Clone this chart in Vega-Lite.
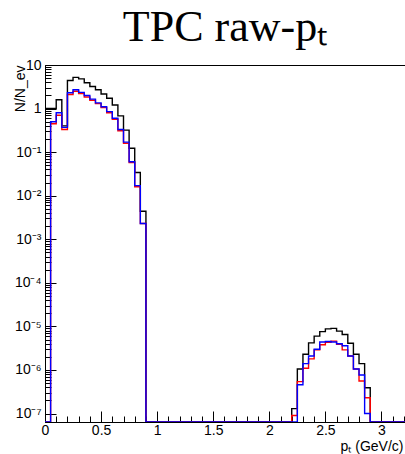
{
  "$schema": "https://vega.github.io/schema/vega-lite/v6.json",
  "width": 360,
  "height": 357,
  "autosize": {"type": "none"},
  "padding": {"left": 45, "top": 65, "right": 0, "bottom": 32},
  "background": "white",
  "title": {
    "text": "TPC raw-pₜ",
    "font": "Liberation Serif",
    "fontSize": 44,
    "fontWeight": "normal",
    "color": "black",
    "anchor": "middle",
    "baseline": "alphabetic",
    "offset": 21,
    "dy": 48
  },
  "datasets": {
    "black": [
      {"pt": 0, "n": 1.0}, {"pt": 0.05, "n": 1.0}, {"pt": 0.1, "n": 1.6}, {"pt": 0.15, "n": 0.4},
      {"pt": 0.2, "n": 4.4}, {"pt": 0.25, "n": 5.2}, {"pt": 0.3, "n": 4.8}, {"pt": 0.35, "n": 3.9},
      {"pt": 0.4, "n": 3.2}, {"pt": 0.45, "n": 2.7}, {"pt": 0.5, "n": 2.16}, {"pt": 0.55, "n": 1.72},
      {"pt": 0.6, "n": 1.21}, {"pt": 0.65, "n": 0.68}, {"pt": 0.7, "n": 0.32}, {"pt": 0.75, "n": 0.123},
      {"pt": 0.8, "n": 0.034}, {"pt": 0.85, "n": 0.0044}, {"pt": 0.9, "n": 1e-9},
      {"pt": 2.2, "n": 1.3e-7}, {"pt": 2.25, "n": 1.05e-6}, {"pt": 2.3, "n": 2.3e-6}, {"pt": 2.35, "n": 4.2e-6},
      {"pt": 2.4, "n": 6.0e-6}, {"pt": 2.45, "n": 7.6e-6}, {"pt": 2.5, "n": 8.8e-6}, {"pt": 2.55, "n": 9.0e-6},
      {"pt": 2.6, "n": 7.8e-6}, {"pt": 2.65, "n": 6.5e-6}, {"pt": 2.7, "n": 4.1e-6}, {"pt": 2.75, "n": 2.3e-6},
      {"pt": 2.8, "n": 1.4e-6}, {"pt": 2.85, "n": 3.9e-7}, {"pt": 2.9, "n": 1e-9}, {"pt": 3.21, "n": 1e-9}
    ],
    "red": [
      {"pt": 0, "n": 1e-9}, {"pt": 0.05, "n": 0.45}, {"pt": 0.1, "n": 0.7}, {"pt": 0.15, "n": 0.33},
      {"pt": 0.2, "n": 2.1}, {"pt": 0.25, "n": 2.5}, {"pt": 0.3, "n": 2.2}, {"pt": 0.35, "n": 1.85},
      {"pt": 0.4, "n": 1.55}, {"pt": 0.45, "n": 1.3}, {"pt": 0.5, "n": 1.05}, {"pt": 0.55, "n": 0.8},
      {"pt": 0.6, "n": 0.57}, {"pt": 0.65, "n": 0.31}, {"pt": 0.7, "n": 0.16}, {"pt": 0.75, "n": 0.058},
      {"pt": 0.8, "n": 0.016}, {"pt": 0.85, "n": 0.0023}, {"pt": 0.9, "n": 1e-9},
      {"pt": 2.2, "n": 9e-8}, {"pt": 2.25, "n": 5.4e-7}, {"pt": 2.3, "n": 1.1e-6}, {"pt": 2.35, "n": 1.8e-6},
      {"pt": 2.4, "n": 2.9e-6}, {"pt": 2.45, "n": 3.8e-6}, {"pt": 2.5, "n": 4.3e-6}, {"pt": 2.55, "n": 4.6e-6},
      {"pt": 2.6, "n": 3.9e-6}, {"pt": 2.65, "n": 2.9e-6}, {"pt": 2.7, "n": 2.1e-6}, {"pt": 2.75, "n": 1.05e-6},
      {"pt": 2.8, "n": 5.6e-7}, {"pt": 2.85, "n": 2.3e-7}, {"pt": 2.9, "n": 1e-9}, {"pt": 3.21, "n": 1e-9}
    ],
    "blue": [
      {"pt": 0, "n": 1e-9}, {"pt": 0.05, "n": 0.5}, {"pt": 0.1, "n": 0.8}, {"pt": 0.15, "n": 0.37},
      {"pt": 0.2, "n": 2.3}, {"pt": 0.25, "n": 2.7}, {"pt": 0.3, "n": 2.35}, {"pt": 0.35, "n": 2.0},
      {"pt": 0.4, "n": 1.65}, {"pt": 0.45, "n": 1.35}, {"pt": 0.5, "n": 1.1}, {"pt": 0.55, "n": 0.85},
      {"pt": 0.6, "n": 0.6}, {"pt": 0.65, "n": 0.33}, {"pt": 0.7, "n": 0.17}, {"pt": 0.75, "n": 0.06},
      {"pt": 0.8, "n": 0.017}, {"pt": 0.85, "n": 0.0023}, {"pt": 0.9, "n": 1e-9},
      {"pt": 2.25, "n": 4.6e-7}, {"pt": 2.3, "n": 1.4e-6}, {"pt": 2.35, "n": 2.1e-6},
      {"pt": 2.4, "n": 3.0e-6}, {"pt": 2.45, "n": 4.4e-6}, {"pt": 2.5, "n": 4.5e-6}, {"pt": 2.55, "n": 4.4e-6},
      {"pt": 2.6, "n": 4.0e-6}, {"pt": 2.65, "n": 3.6e-6}, {"pt": 2.7, "n": 2.1e-6}, {"pt": 2.75, "n": 1.05e-6},
      {"pt": 2.8, "n": 7.7e-7}, {"pt": 2.85, "n": 1.0e-7}, {"pt": 2.9, "n": 1e-9}, {"pt": 3.21, "n": 1e-9}
    ]
  },
  "encoding": {
    "x": {
      "field": "pt",
      "type": "quantitative",
      "scale": {"domain": [0, 3.21], "nice": false, "zero": false},
      "axis": {
        "title": "pₜ (GeV/c)",
        "titleAnchor": "end",
        "titleAlign": "right",
        "titleBaseline": "alphabetic",
        "titleX": 358,
        "titleY": 28,
        "values": [0, 0.1, 0.2, 0.3, 0.4, 0.5, 0.6, 0.7, 0.8, 0.9, 1, 1.1, 1.2, 1.3, 1.4, 1.5, 1.6, 1.7, 1.8, 1.9, 2, 2.1, 2.2, 2.3, 2.4, 2.5, 2.6, 2.7, 2.8, 2.9, 3, 3.1, 3.2],
        "labelExpr": "abs(datum.value*2 - round(datum.value*2)) < 0.001 ? format(datum.value, '~g') : ''",
        "labelOverlap": false,
        "labelFlush": false,
        "tickSize": {"condition": {"test": "abs(datum.value*2 - round(datum.value*2)) < 0.001", "value": -11}, "value": -6},
        "labelPadding": 12
      }
    },
    "y": {
      "field": "n",
      "type": "quantitative",
      "scale": {"type": "log", "domain": [6.4e-8, 10], "clamp": true, "nice": false},
      "axis": {
        "title": "N/N_ev",
        "titleAngle": -90,
        "titleAnchor": "end",
        "titleAlign": "right",
        "titleBaseline": "middle",
        "titleX": -25,
        "titleY": 0,
        "values": [1e-7, 2e-7, 3e-7, 4e-7, 5e-7, 6e-7, 7e-7, 8e-7, 9e-7,
                   1e-6, 2e-6, 3e-6, 4e-6, 5e-6, 6e-6, 7e-6, 8e-6, 9e-6,
                   1e-5, 2e-5, 3e-5, 4e-5, 5e-5, 6e-5, 7e-5, 8e-5, 9e-5,
                   1e-4, 2e-4, 3e-4, 4e-4, 5e-4, 6e-4, 7e-4, 8e-4, 9e-4,
                   0.001, 0.002, 0.003, 0.004, 0.005, 0.006, 0.007, 0.008, 0.009,
                   0.01, 0.02, 0.03, 0.04, 0.05, 0.06, 0.07, 0.08, 0.09,
                   0.1, 0.2, 0.3, 0.4, 0.5, 0.6, 0.7, 0.8, 0.9,
                   1, 2, 3, 4, 5, 6, 7, 8, 9, 10],
        "labelExpr": "abs(log(datum.value)/LN10 - round(log(datum.value)/LN10)) < 0.001 ? (round(log(datum.value)/LN10) == 1 ? '10' : (round(log(datum.value)/LN10) == 0 ? '1' : '10⁻' + substring('⁰¹²³⁴⁵⁶⁷⁸⁹', -round(log(datum.value)/LN10), -round(log(datum.value)/LN10) + 1))) : ''",
        "labelOverlap": false,
        "labelFlush": false,
        "tickSize": {"condition": {"test": "abs(log(datum.value)/LN10 - round(log(datum.value)/LN10)) < 0.001", "value": -11}, "value": -6},
        "labelPadding": 15
      }
    }
  },
  "layer": [
    {"data": {"name": "black"}, "mark": {"type": "line", "interpolate": "step-after", "color": "#000000", "strokeWidth": 1.4, "clip": true}},
    {"data": {"name": "red"}, "mark": {"type": "line", "interpolate": "step-after", "color": "#ff0000", "strokeWidth": 1.4, "clip": true}},
    {"data": {"name": "blue"}, "mark": {"type": "line", "interpolate": "step-after", "color": "#0000ff", "strokeWidth": 1.4, "clip": true}}
  ],
  "config": {
    "view": {"stroke": "black", "strokeWidth": 1},
    "axis": {
      "grid": false,
      "domainColor": "black",
      "tickColor": "black",
      "labelColor": "black",
      "labelFont": "Liberation Sans",
      "labelFontSize": 14,
      "titleFont": "Liberation Sans",
      "titleFontSize": 14,
      "titleFontWeight": "normal",
      "titleColor": "black"
    }
  }
}
